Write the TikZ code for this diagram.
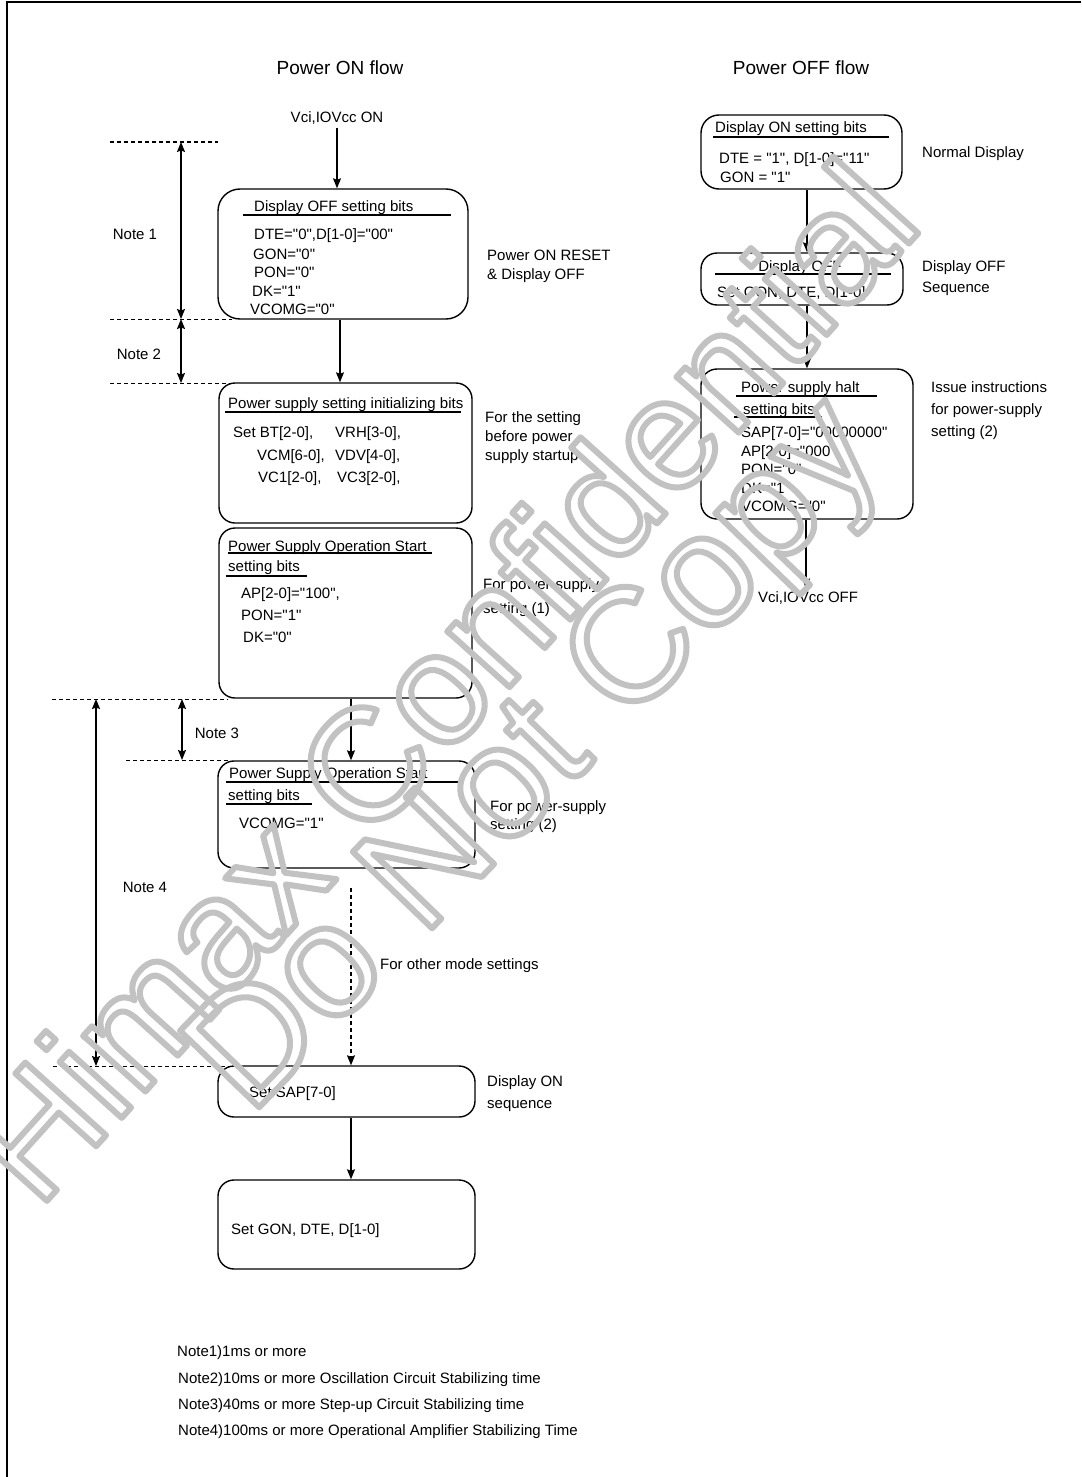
\documentclass[tikz,border=0pt]{standalone}
\usepackage{fontspec}
\setmainfont[Ligatures=TeXOff]{Liberation Sans}
\usetikzlibrary{arrows.meta,calc}
\newcommand\wmtext[2]{\special{pdf:literal direct 1 Tr 6 w 1 j 1 J 0.76 G}\fontsize{#1}{#1}\selectfont #2\special{pdf:literal direct 0 Tr}}
\begin{document}
\begin{tikzpicture}[x=1pt,y=-1pt,
  box/.style={draw, line width=1.4pt, rounded corners=16pt, inner sep=0pt},
  txt/.style={anchor=base west, inner sep=0pt, font=\fontsize{15}{18}\selectfont},
  ctxt/.style={anchor=base, inner sep=0pt, font=\fontsize{15}{18}\selectfont},
  ttl/.style={anchor=base, inner sep=0pt, font=\fontsize{19}{22}\selectfont},
  uline/.style={line width=1.3pt},
  arr/.style={-{Stealth[length=10pt,width=8pt,inset=1.5pt]}, line width=1.3pt},
  darr/.style={{Stealth[length=10pt,width=8pt,inset=1.5pt]}-{Stealth[length=10pt,width=8pt,inset=1.5pt]}, line width=1.3pt},
  dline/.style={dashed, dash pattern=on 4pt off 3pt, line width=1pt},
  frame/.style={line width=1.8pt}
]
\useasboundingbox (0,0) rectangle (1081,1477);
% frame
\coordinate (fTL) at (7,2);
\coordinate (fTR) at (1081,2);
\coordinate (fBL) at (7,1477);
\draw[frame] (fTR) -- (fTL) -- (fBL);

% titles
\node[ttl] (tOn) at (340,75) {Power ON flow};
\node[ttl] (tOff) at (801,75) {Power OFF flow};

% ---------------- Power ON flow ----------------
\node[ctxt, anchor=center, inner sep=3pt] (von) at (337,118) {Vci,IOVcc ON};

\node[box, rounded corners=22pt, minimum width=250pt, minimum height=130pt] (b1) at (343,254) {};
\node[txt] (b1t) at (254,211.5) {Display OFF setting bits};
\draw[uline] (243,215) -- (451,215);
\node[txt] (b1a) at (254,239.5) {DTE="0",D[1-0]="00"};
\node[txt] (b1b) at (253,259) {GON="0"};
\node[txt] (b1c) at (254,277) {PON="0"};
\node[txt] (b1d) at (252,296) {DK="1"};
\node[txt] (b1e) at (250,314) {VCOMG="0"};
\node[txt] (r1a) at (487,260) {Power ON RESET};
\node[txt] (r1b) at (487,279) {\& Display OFF};

\node[box, minimum width=253pt, minimum height=140pt] (b2) at (345.5,453) {};
\node[txt] (b2t) at (228,408.5) {Power supply setting initializing bits};
\draw[uline] (225,412) -- (461,412);
\node[txt] (b2a) at (233,437.5) {Set BT[2-0],};
\node[txt] (b2b) at (335,437.5) {VRH[3-0],};
\node[txt] (b2c) at (257,460.5) {VCM[6-0],};
\node[txt] (b2d) at (335,460.5) {VDV[4-0],};
\node[txt] (b2e) at (258,482.5) {VC1[2-0],};
\node[txt] (b2f) at (337,482.5) {VC3[2-0],};
\node[txt] (r2a) at (485,422.5) {For the setting};
\node[txt] (r2b) at (485,441.5) {before power};
\node[txt] (r2c) at (485,460.5) {supply startup};

\node[box, minimum width=253pt, minimum height=170pt] (b3) at (345.5,613) {};
\node[txt] (b3t) at (228,551) {Power Supply Operation Start};
\draw[uline] (228,553) -- (432,553);
\node[txt] (b3u) at (228,571.5) {setting bits};
\draw[uline] (226,576) -- (307,576);
\node[txt] (b3a) at (241,598.5) {AP[2-0]="100",};
\node[txt] (b3b) at (241,620.5) {PON="1"};
\node[txt] (b3c) at (243,642.5) {DK="0"};
\node[txt] (r3a) at (483,589.5) {For power-supply};
\node[txt] (r3b) at (483,613.5) {setting (1)};

\node[box, minimum width=257pt, minimum height=107pt] (b4) at (346.5,814.5) {};
\node[txt] (b4t) at (229,778.5) {Power Supply Operation Start};
\draw[uline] (226,782) -- (460,782);
\node[txt] (b4u) at (228,800.5) {setting bits};
\draw[uline] (226,804) -- (312,804);
\node[txt] (b4a) at (239,828.5) {VCOMG="1"};
\node[txt] (r4a) at (490,811.5) {For power-supply};
\node[txt] (r4b) at (490,829.5) {setting (2)};

\node[txt] (oth) at (380,969.5) {For other mode settings};

\node[box, minimum width=257pt, minimum height=51pt] (b5) at (346.5,1091.5) {};
\node[txt] (b5a) at (249,1097.5) {Set SAP[7-0]};
\node[txt] (r5a) at (487,1086.5) {Display ON};
\node[txt] (r5b) at (487,1108.5) {sequence};

\node[box, minimum width=257pt, minimum height=89pt] (b6) at (346.5,1224.5) {};
\node[txt] (b6a) at (231,1234.5) {Set GON, DTE, D[1-0]};

% connectors (ON flow)
\draw[arr] (von.south) -- (von.south |- b1.north);
\draw[arr] ([xshift=-3pt]b1.south) -- ([xshift=-5.5pt]b2.north);
\draw[arr] ([xshift=5.5pt]b3.south) -- ([xshift=4.5pt]b4.north);
\coordinate (dst) at (351,888);
\draw[arr, dashed, dash pattern=on 4pt off 3pt] (dst) -- ([xshift=4.5pt]b5.north);
\draw[arr] ([xshift=4.5pt]b5.south) -- ([xshift=4.5pt]b6.north);

% note guides
\coordinate (g1a) at (110,142);  \coordinate (g1b) at (218,142);
\coordinate (g2a) at (110,319);  \coordinate (g2b) at (232,319);
\coordinate (g3a) at (110,383);  \coordinate (g3b) at (230,383);
\coordinate (g4a) at (52,699);   \coordinate (g4b) at (228,699);
\coordinate (g5a) at (126,760);  \coordinate (g5b) at (231,760);
\coordinate (g6a) at (53,1066);  \coordinate (g6b) at (231,1066);
\foreach \a/\b in {g1a/g1b,g2a/g2b,g3a/g3b,g4a/g4b,g5a/g5b,g6a/g6b}
  \draw[dline] (\a) -- (\b);
\coordinate (n1t) at (181,142); \coordinate (n1b) at (181,319);
\coordinate (n2t) at (181,319); \coordinate (n2b) at (181,383);
\coordinate (n3t) at (182,699); \coordinate (n3b) at (182,760);
\coordinate (n4t) at (96,699);  \coordinate (n4b) at (96,1066);
\draw[darr] (n1t) -- (n1b);
\draw[darr] (n2t) -- (n2b);
\draw[darr] (n3t) -- (n3b);
\draw[darr] (n4t) -- (n4b);
\node[ctxt] (nt1) at (135,239.5) {Note 1};
\node[ctxt] (nt2) at (139,359.5) {Note 2};
\node[ctxt] (nt3) at (217,738.5) {Note 3};
\node[ctxt] (nt4) at (145,892.5) {Note 4};

% ---------------- Power OFF flow ----------------
\node[box, rounded corners=18pt, minimum width=201pt, minimum height=74pt] (b7) at (801.5,152) {};
\node[txt] (b7t) at (715,132.5) {Display ON setting bits};
\draw[uline] (713,137) -- (889,137);
\node[txt] (b7a) at (719,163.5) {DTE = "1", D[1-0]="11"};
\node[txt] (b7b) at (720,182.5) {GON = "1"};
\node[txt] (r7a) at (922,157.5) {Normal Display};

\node[box, minimum width=202pt, minimum height=52pt] (b8) at (802,279) {};
\node[ctxt] (b8t) at (800,271.5) {Display OFF};
\draw[uline] (715,274) -- (891,274);
\node[txt] (b8a) at (717,297.5) {Set GON, DTE, D[1-0]};
\node[txt] (r8a) at (922,271.5) {Display OFF};
\node[txt] (r8b) at (922,292.5) {Sequence};

\node[box, minimum width=212pt, minimum height=150pt] (b9) at (807,444) {};
\node[txt] (b9t) at (741,392.5) {Power supply halt};
\draw[uline] (736,396) -- (877,396);
\node[txt] (b9u) at (743,414.5) {setting bits};
\draw[uline] (734,417) -- (822,417);
\node[txt] (b9a) at (741,437.5) {SAP[7-0]="00000000"};
\node[txt] (b9b) at (741,456.5) {AP[2-0]="000"};
\node[txt] (b9c) at (741,474.5) {PON="0"};
\node[txt] (b9d) at (741,493.5) {DK="1"};
\node[txt] (b9e) at (741,511.5) {VCOMG="0"};
\node[txt] (r9a) at (931,392.5) {Issue instructions};
\node[txt] (r9b) at (931,414.5) {for power-supply};
\node[txt] (r9c) at (931,436.5) {setting (2)};

\node[ctxt, anchor=center, inner sep=3pt] (voff) at (808,598) {Vci,IOVcc OFF};

\draw[arr] ([xshift=5.5pt]b7.south) -- ([xshift=5pt]b8.north);
\draw[arr] ([xshift=5pt]b8.south) -- (b9.north);
\draw[arr] ([xshift=-1pt]b9.south) -- ([xshift=-1pt]b9.south |- voff.north);

% ---------------- notes ----------------
\node[txt] (nn1) at (177,1356.5) {Note1)1ms or more};
\node[txt] (nn2) at (178,1383.5) {Note2)10ms or more Oscillation Circuit Stabilizing time};
\node[txt] (nn3) at (178,1409.5) {Note3)40ms or more Step-up Circuit Stabilizing time};
\node[txt] (nn4) at (178,1435.5) {Note4)100ms or more Operational Amplifier Stabilizing Time};

% ---------------- watermark ----------------
\node[rotate=48, inner sep=0pt] (wm1) at (440,680) {\wmtext{158}{Himax Confidential}};
\node[rotate=46, inner sep=0pt] (wm2) at (540,760) {\wmtext{160}{Do Not Copy}};
\end{tikzpicture}
\end{document}
